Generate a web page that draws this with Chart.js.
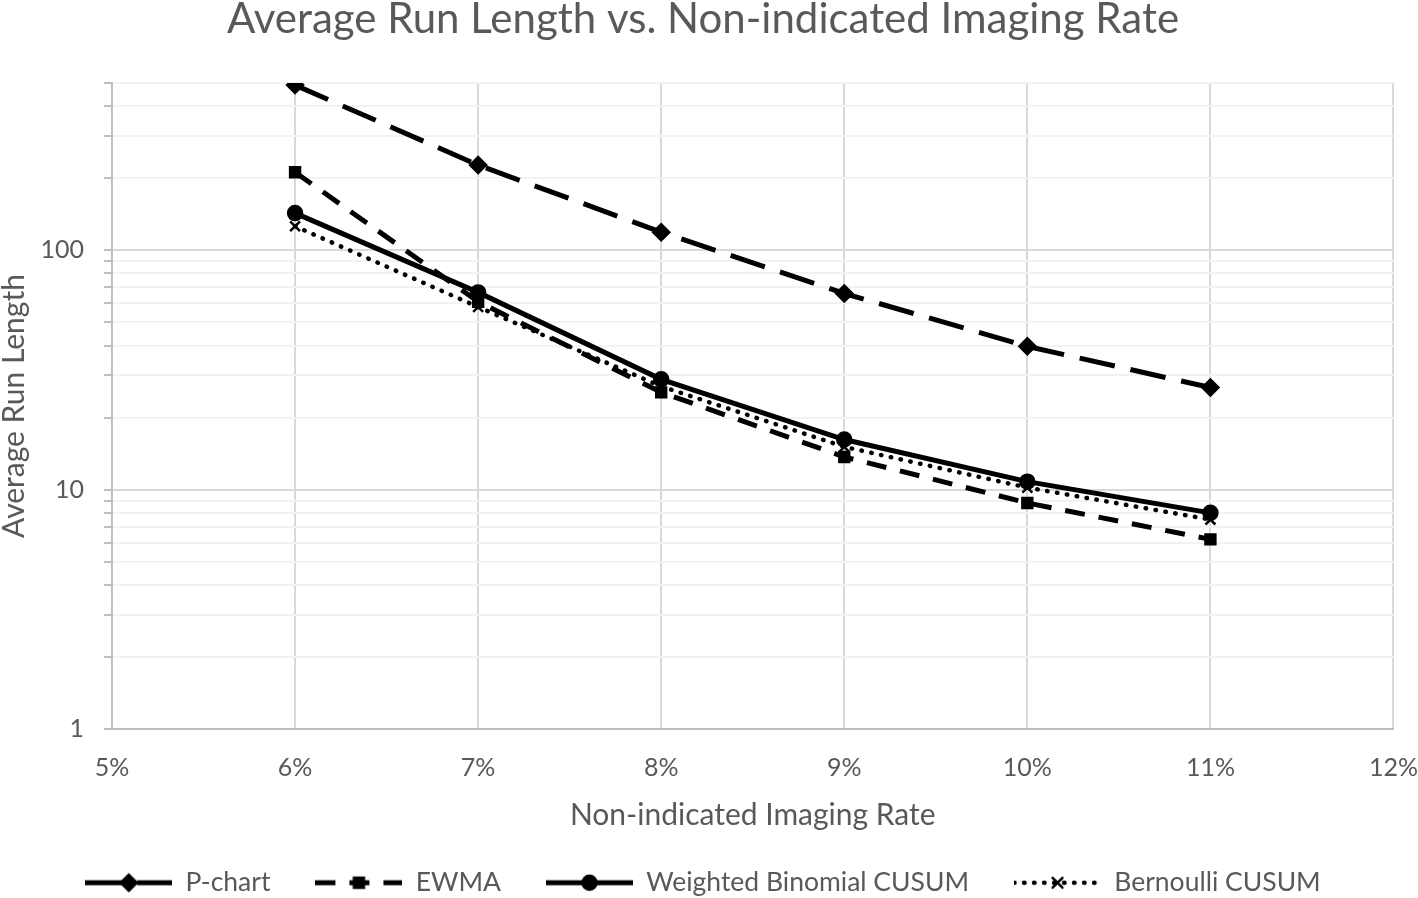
<!DOCTYPE html>
<html>
<head>
<meta charset="utf-8">
<script src="https://cdn.jsdelivr.net/npm/chart.js@4.4.0/dist/chart.umd.min.js"></script>
<style>
  html, body { margin: 0; padding: 0; background: #fff; overflow: hidden; }
</style>
</head>
<body>
<canvas id="chart" width="1418" height="898"></canvas>

<script>
  // Non-indicated imaging rate (%) and average run length per method
  const rates = [6, 7, 8, 9, 10, 11];
  const pChart = [490, 227, 119, 66, 39.7, 26.7];
  const ewma = [212, 61, 25.5, 13.7, 8.8, 6.2];
  const wbCusum = [143, 66.7, 28.9, 16.2, 10.8, 8.0];
  const bernoulliCusum = [126, 58, 27, 15.1, 10.2, 7.5];

  // log axis: minor grid every unit step, labels only at the decades
  const yTicks = [1, 2, 3, 4, 5, 6, 7, 8, 9, 10, 20, 30, 40, 50, 60, 70, 80, 90, 100, 200, 300, 400, 500];
  const yLabels = [1, 10, 100];

  const grey = '#595959';
  Chart.defaults.font.family = 'Lato';

  const toPoints = vals => rates.map((r, i) => ({ x: r, y: vals[i] }));

  const datasets = [
    { label: 'P-chart', data: toPoints(pChart), borderDash: [36, 16], borderWidth: 5, pointStyle: 'rectRot', pointRadius: 8 },
    { label: 'EWMA', data: toPoints(ewma), borderDash: [20, 14], borderWidth: 5, pointStyle: 'rect', pointRadius: 7 },
    { label: 'Weighted Binomial CUSUM', data: toPoints(wbCusum), borderDash: [], borderWidth: 5, pointStyle: 'circle', pointRadius: 7 },
    { label: 'Bernoulli CUSUM', data: toPoints(bernoulliCusum), borderDash: [0.5, 9.5], borderCapStyle: 'round', borderWidth: 4.5, pointStyle: 'crossRot', pointRadius: 7 }
  ].map(ds => Object.assign({
    borderColor: '#000', backgroundColor: '#000', pointBorderColor: '#000', pointBackgroundColor: '#000',
    pointBorderWidth: 2.5, tension: 0, fill: false
  }, ds));

  // little line + marker picture used as the legend symbol
  function legendSample(ds) {
    const c = document.createElement('canvas');
    c.width = 87; c.height = 22;
    const g = c.getContext('2d');
    g.strokeStyle = '#000'; g.fillStyle = '#000';
    g.lineWidth = ds.borderWidth;
    g.lineCap = ds.borderCapStyle || 'butt';
    g.setLineDash(ds.borderDash);
    g.beginPath(); g.moveTo(0, 11); g.lineTo(87, 11); g.stroke();
    g.setLineDash([]);
    g.lineWidth = 2.5;
    Chart.helpers.drawPoint(g, { pointStyle: ds.pointStyle, radius: ds.pointRadius, borderWidth: 2.5 }, 43.5, 11);
    return c;
  }
  const samples = datasets.map(legendSample);

  const ctx = document.getElementById('chart').getContext('2d');
  new Chart(ctx, {
    type: 'line',
    data: { datasets: datasets },
    options: {
      responsive: false,
      animation: false,
      layout: { padding: { left: 6, right: 18, top: 0, bottom: -8 } },
      scales: {
        x: {
          type: 'linear',
          min: 5, max: 12,
          afterFit: s => { s.height = 95.5; },
          ticks: { stepSize: 1, padding: 0, color: grey, font: { size: 25 }, callback: v => v + '%' },
          // invisible tick marks give the label gap without widening the side padding
          grid: { color: '#d9d9d9', lineWidth: 2, drawTicks: true, tickLength: 24, tickColor: 'rgba(0,0,0,0)' },
          border: { color: '#bfbfbf', width: 2 },
          title: { display: true, text: 'Non-indicated Imaging Rate', color: grey, font: { size: 30 }, padding: { top: 0, bottom: -8.5 } }
        },
        y: {
          type: 'logarithmic',
          min: 1, max: 500,
          afterFit: s => { s.width = 106; },
          afterBuildTicks: s => { s.ticks = yTicks.map(v => ({ value: v, major: yLabels.includes(v) })); },
          ticks: {
            autoSkip: false, padding: 20, color: grey, font: { size: 25 },
            callback: v => yLabels.includes(v) ? String(v) : ''
          },
          grid: {
            color: c => yLabels.includes(c.tick.value) ? '#d9d9d9' : '#f2f2f2',
            lineWidth: 2, tickLength: 8, tickColor: '#bfbfbf', tickWidth: 2
          },
          border: { color: '#bfbfbf', width: 2 },
          title: { display: true, text: 'Average Run Length', color: grey, font: { size: 30 }, padding: { top: -10, bottom: 0 } }
        }
      },
      plugins: {
        title: {
          display: true,
          text: 'Average Run Length vs. Non-indicated Imaging Rate',
          color: grey,
          font: { size: 42, weight: 'normal', lineHeight: 1.0 },
          padding: { top: -2, bottom: 43 }
        },
        legend: {
          position: 'bottom',
          labels: {
            usePointStyle: true,
            pointStyleWidth: 87,
            boxHeight: 22,
            padding: 45,
            color: grey,
            font: { size: 26.5 },
            generateLabels: chart => chart.data.datasets.map((ds, i) => ({
              text: ds.label,
              pointStyle: samples[i],
              datasetIndex: i,
              hidden: false,
              lineWidth: 0,
              fontColor: grey
            }))
          }
        },
        tooltip: { enabled: false }
      }
    }
  });
</script>
</body>
</html>
